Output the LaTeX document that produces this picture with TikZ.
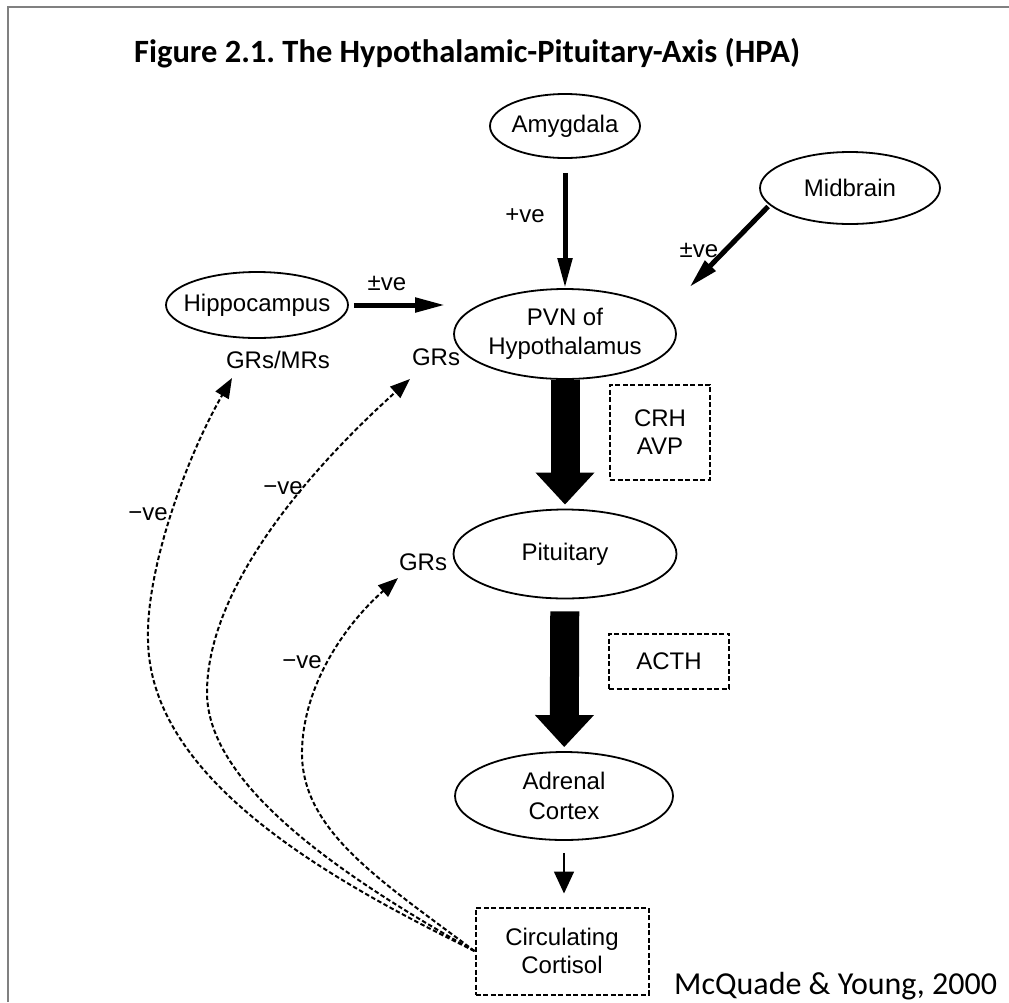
\documentclass[tikz,border=0pt]{standalone}
\usepackage{fontspec}
\setmainfont{Liberation Sans}
\newfontfamily\capfont{Carlito}
\usetikzlibrary{shapes.geometric,arrows.meta}
\frenchspacing
\begin{document}
\begin{tikzpicture}[x=1pt,y=-1pt,
  region/.style={ellipse,draw,line width=1.8pt,inner sep=0pt},
  signal/.style={draw,line width=2pt,dash pattern=on 5pt off 2.5pt,inner sep=0pt,align=center,font=\fontsize{24}{28.5}\selectfont},
  tag/.style={inner sep=0pt,align=center,font=\fontsize{24}{29.5}\selectfont},
  drive/.style={line width=5pt,-{Triangle[length=30pt,width=14pt]}},
  bigarrow/.style={line width=29pt,-{Triangle[length=32pt,width=57pt]}},
  feedback/.style={line width=2pt,dash pattern=on 4.5pt off 2.5pt,-{Triangle[length=20pt,width=15pt]}}]
\useasboundingbox (0,0) rectangle (1009,1002);
\draw[gray,line width=2pt] (7.8,1002) -- (7.8,6.7) -- (1009,6.7);
\node[anchor=base west,inner sep=0pt,font=\capfont\bfseries\fontsize{32.5}{38}\selectfont] (title) at (134,62) {Figure 2.1. The Hypothalamic-Pituitary-Axis (HPA)};
\node[anchor=base west,inner sep=0pt,font=\capfont\fontsize{32}{38}\selectfont] (credit) at (674,994) {McQuade \& Young, 2000};
\node[region,minimum width=150pt,minimum height=64pt] (amyg) at (565,126) {};
\node[tag] at (amyg) {Amygdala};
\node[region,minimum width=180pt,minimum height=72pt] (mid) at (850,188) {};
\node[tag] at (mid) {Midbrain};
\node[region,minimum width=182pt,minimum height=66pt] (hippo) at (257,305) {};
\node[tag] at (hippo) {Hippocampus};
\node[region,minimum width=222pt,minimum height=90pt] (pvn) at (565,334) {};
\node[tag] at (pvn) {PVN of\\Hypothalamus};
\node[region,minimum width=223pt,minimum height=89pt] (pit) at (565,554) {};
\node[tag] at (pit) {Pituitary};
\node[region,minimum width=218pt,minimum height=88pt] (adr) at (564,796) {};
\node[tag] at (adr) {Adrenal\\Cortex};
\node[signal,minimum width=100pt,minimum height=95pt] (crh) at (660,432) {CRH\\AVP};
\node[signal,minimum width=120pt,minimum height=55pt] (acth) at (669,661) {ACTH};
\node[signal,minimum width=173pt,minimum height=87pt] (cort) at (562,951) {Circulating\\Cortisol};
\node[tag] (plusa) at (525,216) {+ve};
\node[tag] (pmmid) at (699,250) {±ve};
\node[tag] (pmhip) at (387,283) {±ve};
\node[tag] (grsa) at (278,360) {GRs/MRs};
\node[tag] (grsb) at (436,357) {GRs};
\node[tag] (grsc) at (423,562) {GRs};
\node[tag] (nega) at (148,514) {−ve};
\node[tag] (negb) at (283,488) {−ve};
\node[tag] (negc) at (302,662) {−ve};
\coordinate (tipa) at (232,378);
\coordinate (tipb) at (410,379);
\coordinate (tipc) at (398,578);
\draw[drive,shorten <=14pt] (amyg) -- (pvn);
\draw[drive,shorten <=2pt,shorten >=36pt] (mid.192) -- (pvn.12);
\draw[drive,shorten <=5pt,shorten >=8pt] (hippo.east) -- (hippo.east -| pvn.west);
\draw[bigarrow,shorten >=4pt] (pvn) -- (pit);
\draw[bigarrow,shorten <=12pt,shorten >=4pt] (pit) -- (adr);
\draw[line width=1.6pt,-{Triangle[length=22pt,width=20pt]},shorten <=12pt,shorten >=13pt] (adr.south) -- (adr.south |- cort.north);
\draw[feedback] (cort.west) .. controls (330,880) and (150,780) .. (148,640) .. controls (146,570) and (185,460) .. (tipa);
\draw[feedback] (cort.west) .. controls (330,870) and (205,780) .. (207,690) .. controls (209,580) and (320,460) .. (tipb);
\draw[feedback] (cort.west) .. controls (380,880) and (300,830) .. (302,750) .. controls (304,680) and (350,620) .. (tipc);
\end{tikzpicture}
\end{document}
